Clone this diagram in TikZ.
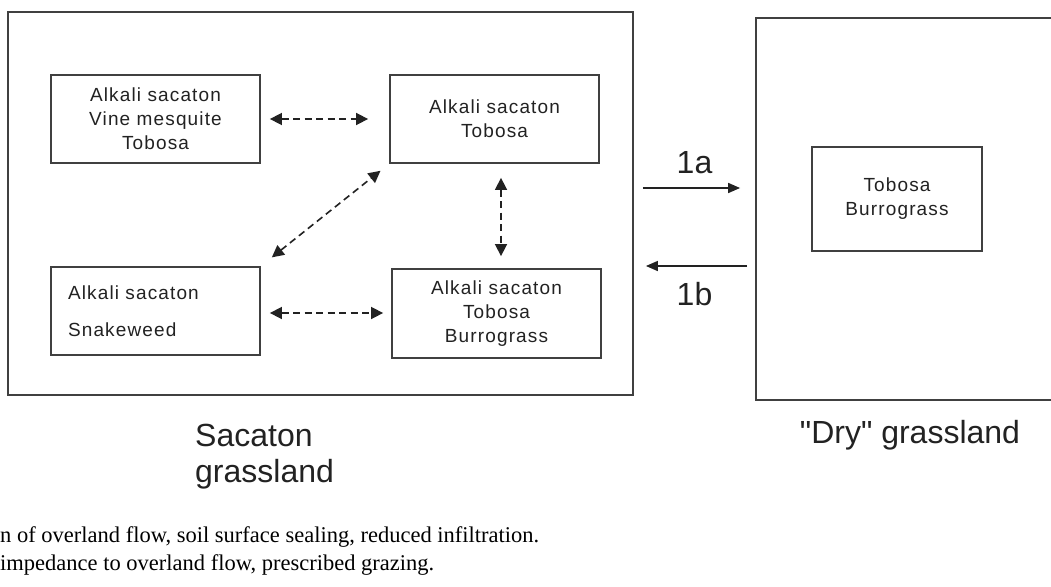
\documentclass[tikz,border=0pt]{standalone}
\usepackage{fontspec}
\setmainfont{Liberation Sans}
\newfontfamily\boxfont[LetterSpace=6]{Liberation Sans}
\newfontfamily\notefont{Liberation Serif}
\newfontfamily\dryfont[Ligatures=TeXOff]{Liberation Sans}
\usetikzlibrary{arrows.meta}
\definecolor{ink}{HTML}{222222}
\definecolor{frame}{HTML}{404040}
\tikzset{
  statebox/.style={draw=frame, line width=1.8pt, inner sep=0pt, text=ink,
    font=\boxfont\fontsize{19}{24}\selectfont, align=center},
  bigbox/.style={draw=frame, line width=1.8pt, inner sep=0pt},
  dasharr/.style={draw=ink, line width=1.6pt, dash pattern=on 7pt off 4.5pt,
    {Triangle[length=12pt,width=12pt]}-{Triangle[length=12pt,width=12pt]}},
  soldarr/.style={draw=ink, line width=1.6pt, -{Triangle[length=12pt,width=10pt]}},
  biglabel/.style={text=ink, font=\fontsize{32}{36}\selectfont, inner sep=0pt},
  notetext/.style={text=black, font=\notefont\fontsize{22.5}{26}\selectfont, inner sep=0pt, anchor=west}
}
\begin{document}
\begin{tikzpicture}[x=1pt,y=-1pt]
\useasboundingbox[fill=white] (0,0) rectangle (1051,586);
% big frames
\node[bigbox, minimum width=625pt, minimum height=383pt] (lbox) at (320.5,203.5) {};
\node[bigbox, minimum width=300pt, minimum height=382pt] (rbox) at (906,209) {};
% state boxes
\node[statebox, minimum width=209pt, minimum height=88pt] (tl) at (155.5,119) {Alkali sacaton\\Vine mesquite\\Tobosa};
\node[statebox, minimum width=209pt, minimum height=88pt] (tr) at (494.5,119) {Alkali sacaton\\Tobosa};
\node[statebox, minimum width=209pt, minimum height=88pt, text width=175pt, inner xsep=17pt, align=left] (bl) at (155.5,311) {Alkali sacaton\\[13pt]Snakeweed};
\node[statebox, minimum width=209pt, minimum height=89pt] (br) at (496.5,313.5) {Alkali sacaton\\Tobosa\\Burrograss};
\node[statebox, minimum width=170pt, minimum height=104pt] (dr) at (897,199) {Tobosa\\Burrograss};
% dashed transitions
\draw[dasharr, shorten <=9pt, shorten >=21pt] (tl.east) -- (tr.west);
\draw[dasharr, shorten <=9pt, shorten >=8pt] ([yshift=-2pt]bl.east) -- ([yshift=-2pt]bl.east -| br.west);
\draw[dasharr, shorten <=14pt, shorten >=11pt] (bl.north east) -- (tr.south west);
\draw[dasharr, shorten <=14pt, shorten >=12pt] ([xshift=6.5pt]tr.south) -- ([xshift=6.5pt]tr.south |- br.north);
% solid transitions
\draw[soldarr, shorten <=9pt, shorten >=15pt] ([yshift=15.5pt]lbox.east) -- ([yshift=15.5pt]lbox.east -| rbox.west) node[midway, above=13pt, biglabel] (la) {1a};
\draw[soldarr, shorten <=8pt, shorten >=12pt] ([yshift=-57pt]rbox.west) -- ([yshift=-57pt]rbox.west -| lbox.east) node[midway, below=16pt, biglabel] (lb) {1b};
% labels
\node[biglabel, anchor=west, align=left] (sac) at (195,457) {Sacaton\\grassland};
\node[biglabel] (dry) at (910,435) {\dryfont "Dry" grassland};
% notes
\node[notetext] (n1) at (0,537) {n of overland flow, soil surface sealing, reduced infiltration.};
\node[notetext] (n2) at (0,565) {impedance to overland flow, prescribed grazing.};
\end{tikzpicture}
\end{document}
